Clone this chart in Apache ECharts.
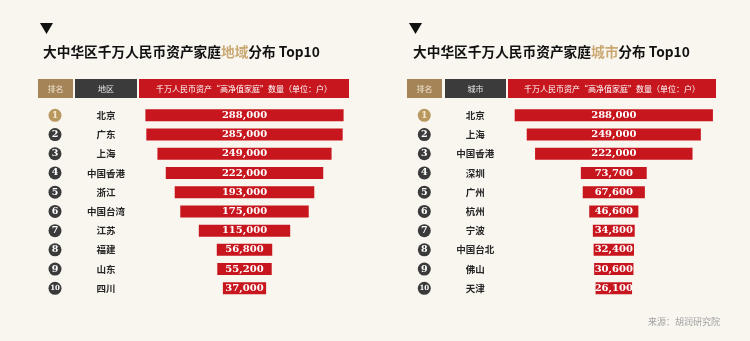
<!DOCTYPE html>
<html>
<head>
<meta charset="utf-8">
<script src="https://cdn.jsdelivr.net/npm/echarts@6/dist/echarts.min.js"></script>
<style>
html,body{margin:0;padding:0;background:#f9f6f0;}
#chart{width:750px;height:341px;}
</style>
</head>
<body>
<div id="chart"></div>
<script>
// ---- data ----
var regions = ['北京','广东','上海','中国香港','浙江','中国台湾','江苏','福建','山东','四川'];
var regionValues = [288000,285000,249000,222000,193000,175000,115000,56800,55200,37000];
var cities = ['北京','上海','中国香港','深圳','广州','杭州','宁波','中国台北','佛山','天津'];
var cityValues = [288000,249000,222000,73700,67600,46600,34800,32400,30600,26100];
var ranks = ['1','2','3','4','5','6','7','8','9','10'];

// ---- visual settings ----
var barBase = 33000;      // minimum bar length (value units) so labels fit
var axisMax = 400000;
var RED = '#c7161d', GOLD = '#a58558', DARK = '#3b3b3b';
var CJK = '"Noto Sans CJK SC", "Noto Sans", sans-serif';

function fmt(v){ return String(v).replace(/\B(?=(\d{3})+(?!\d))/g, ','); }
function spacer(vals){ return vals.map(function(v){ return (axisMax - (v + barBase)) / 2; }); }
function lengths(vals){ return vals.map(function(v){ return v + barBase; }); }

var chart = echarts.init(document.getElementById('chart'));

var grids = [
  {left: 121, top: 105.7, width: 247, height: 192.2},
  {left: 490.3, top: 105.7, width: 247, height: 192.2}
];

function yAxes(gi, names){
  return [
    {gridIndex: gi, type:'category', data: names, inverse:true,
     axisLine:{show:false}, axisTick:{show:false}, splitLine:{show:false},
     axisLabel:{margin:15, align:'center', color:'#262626', fontSize:9.5, fontWeight:'bold', fontFamily:CJK}},
    {gridIndex: gi, type:'category', data: ranks, inverse:true, position:'left',
     axisLine:{show:false}, axisTick:{show:false}, splitLine:{show:false},
     axisLabel:{margin:66, align:'center',
       formatter: function(v, i){ return (i === 0 ? '{g|' : (v.length > 1 ? '{t|' : '{c|')) + v + '}'; },
       rich:{
         c:{width:13,height:13,lineHeight:13,borderRadius:6.5,backgroundColor:'#3a3a3a',color:'#fff',align:'center',fontSize:9.5,fontWeight:'bold',fontFamily:'"DejaVu Serif", serif'},
         t:{width:13,height:13,lineHeight:13,borderRadius:6.5,backgroundColor:'#3a3a3a',color:'#fff',align:'center',fontSize:7,fontWeight:'bold',fontFamily:'"DejaVu Serif", serif'},
         g:{width:13,height:13,lineHeight:13,borderRadius:6.5,backgroundColor:'#b8985f',color:'#f3e6cc',align:'center',fontSize:9.5,fontWeight:'bold',fontFamily:'"DejaVu Serif", serif'}
       }}}
  ];
}

function seriesFor(gi, vals){
  return [
    {type:'bar', xAxisIndex:gi, yAxisIndex:gi*2, stack:'s'+gi, data: spacer(vals),
     itemStyle:{color:'rgba(0,0,0,0)'}, barWidth:12, silent:true},
    {type:'bar', xAxisIndex:gi, yAxisIndex:gi*2, stack:'s'+gi, data: lengths(vals),
     itemStyle:{color:RED}, barWidth:12,
     label:{show:true, position:'inside', color:'#fff', fontSize:10, fontWeight:'bold',
       fontFamily:'"DejaVu Serif", serif',
       formatter:function(p){ return fmt(vals[p.dataIndex]); }}}
  ];
}

function header(rankX, nameX, nameW, redX, redW, colName){
  var y = 79, h = 19;
  return [
    {type:'rect', shape:{x:rankX, y:y, width:35, height:h}, style:{fill:GOLD}},
    {type:'rect', shape:{x:nameX, y:y, width:nameW, height:h}, style:{fill:DARK}},
    {type:'rect', shape:{x:redX, y:y, width:redW, height:h}, style:{fill:RED}},
    {type:'text', style:{text:'排名', x:rankX+17.5, y:y+h/2, align:'center', verticalAlign:'middle', fill:'#efe3cf', font:'8px ' + CJK}},
    {type:'text', style:{text:colName, x:nameX+nameW/2, y:y+h/2, align:'center', verticalAlign:'middle', fill:'#e6e6e6', font:'8px ' + CJK}},
    {type:'text', style:{text:'千万人民币资产“高净值家庭”数量（单位：户）', x:redX+redW/2, y:y+h/2, align:'center', verticalAlign:'middle', fill:'#fff', font:'8px ' + CJK}}
  ];
}

var graphics = [].concat(
  [{type:'polygon', shape:{points:[[40,23],[53,23],[46.5,34]]}, style:{fill:'#111'}},
   {type:'polygon', shape:{points:[[409,23],[422,23],[415.5,34]]}, style:{fill:'#111'}}],
  header(38, 75, 62, 139, 210, '地区'),
  header(407, 445, 61, 508, 208, '城市'),
  [{type:'text', style:{text:'来源：胡润研究院', x:648, y:322, verticalAlign:'middle', fill:'#a3a3a3', font:'9px ' + CJK}}]
);

var titleRich = {
  a:{fontSize:13.7, fontWeight:'bold', color:'#111', fontFamily:CJK},
  h:{fontSize:13.7, fontWeight:'bold', color:'#c9a872', fontFamily:CJK}
};

chart.setOption({
  backgroundColor:'#f9f6f0',
  animation:false,
  title:[
    {text:'{a|大中华区千万人民币资产家庭}{h|地域}{a|分布 Top10}', left:38, top:40, textStyle:{rich:titleRich}},
    {text:'{a|大中华区千万人民币资产家庭}{h|城市}{a|分布 Top10}', left:408, top:40, textStyle:{rich:titleRich}}
  ],
  grid: grids,
  xAxis:[
    {gridIndex:0, type:'value', min:0, max:axisMax, show:false},
    {gridIndex:1, type:'value', min:0, max:axisMax, show:false}
  ],
  yAxis: [].concat(yAxes(0, regions), yAxes(1, cities)),
  series: [].concat(seriesFor(0, regionValues), seriesFor(1, cityValues)),
  graphic: graphics
});
</script>
</body>
</html>
